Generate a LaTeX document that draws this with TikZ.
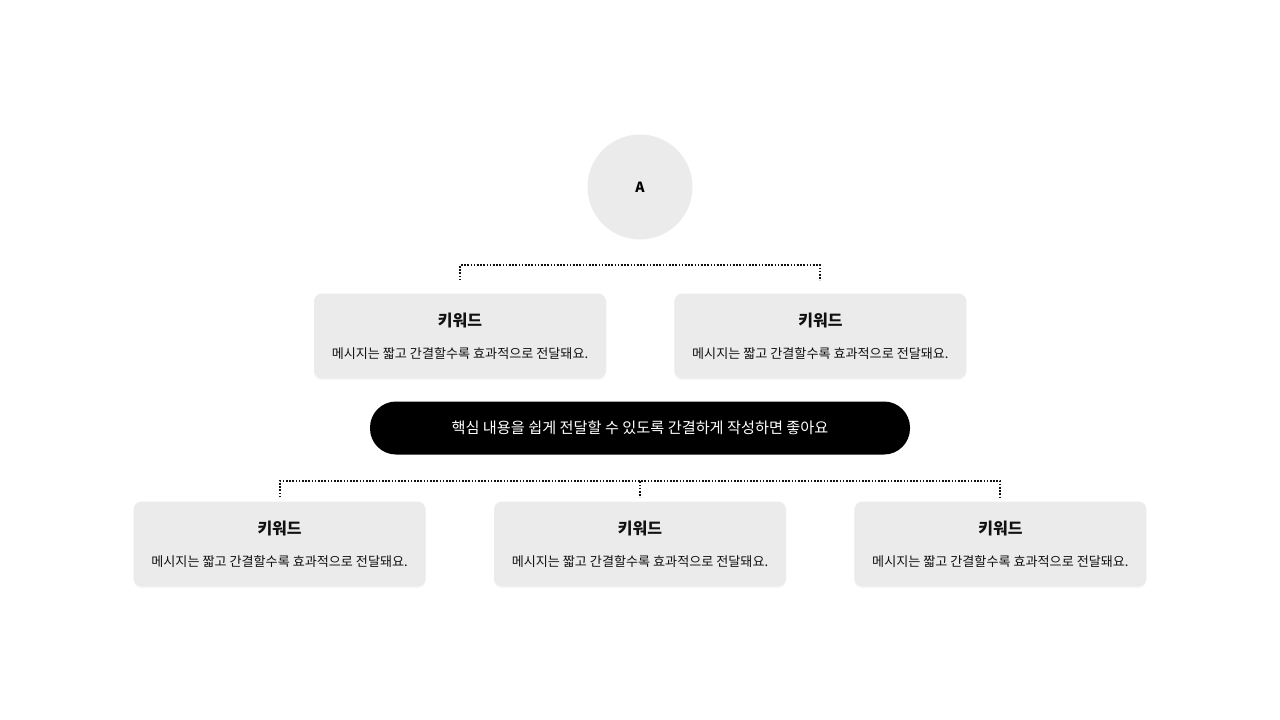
\documentclass[tikz,border=0pt]{standalone}
\usepackage{fontspec}
\setmainfont{Noto Sans CJK KR}
\usetikzlibrary{positioning,shadows}
\definecolor{boxgray}{HTML}{EBEBEB}
\definecolor{inkdark}{HTML}{111111}

\begin{document}
\begin{tikzpicture}[x=1pt,y=-1pt,
box/.style={fill=boxgray,rounded corners=8pt,minimum width=292pt,minimum height=85pt,
  align=center,text=inkdark,font=\fontsize{13.1}{18}\selectfont,
  drop shadow={opacity=0.07,shadow xshift=0pt,shadow yshift=-1.5pt}},
bracket/.style={line width=2pt,dash pattern=on 1.6pt off 1.6pt,draw=inkdark},
node distance = 68pt]
\useasboundingbox (0,0) rectangle (1280,720);

\node[circle,fill=boxgray,minimum size=105pt,inner sep=0pt,font=\bfseries\fontsize{14}{16}\selectfont] (a) at (640,187) {A};

\node[box] (k1) at (460,336) {{\bfseries\fontsize{16}{18}\selectfont 키워드}\\[14pt]메시지는 짧고 간결할수록 효과적으로 전달돼요.};
\node[box,right=of k1] (k2) {{\bfseries\fontsize{16}{18}\selectfont 키워드}\\[14pt]메시지는 짧고 간결할수록 효과적으로 전달돼요.};

\node[fill=black,text=white,rounded corners=26pt,minimum width=540pt,minimum height=53pt,
  inner sep=0pt,font=\fontsize{15.2}{17}\selectfont] (pill) at (640,428) {핵심 내용을 쉽게 전달할 수 있도록 간결하게 작성하면 좋아요};

\node[box] (m2) at (640,544) {{\bfseries\fontsize{16}{18}\selectfont 키워드}\\[14pt]메시지는 짧고 간결할수록 효과적으로 전달돼요.};
\node[box,left=of m2] (m1) {{\bfseries\fontsize{16}{18}\selectfont 키워드}\\[14pt]메시지는 짧고 간결할수록 효과적으로 전달돼요.};
\node[box,right=of m2] (m3) {{\bfseries\fontsize{16}{18}\selectfont 키워드}\\[14pt]메시지는 짧고 간결할수록 효과적으로 전달돼요.};

% top bracket
\coordinate (k1t) at ([yshift=13pt]k1.north);
\coordinate (k1h) at ([yshift=28pt]k1.north);
\coordinate (k2t) at ([yshift=13pt]k2.north);
\coordinate (k2h) at ([yshift=28pt]k2.north);
\draw[bracket] (k1t) -- (k1h) -- (k2h) -- (k2t);

% bottom bracket
\foreach \x in {1,2,3}{
\coordinate (m\x t) at ([yshift=4pt]m\x.north);
\coordinate (m\x h) at ([yshift=20pt]m\x.north);
}
\draw[bracket] (m1t) -- (m1h) -- (m3h) -- (m3t);
\draw[bracket] (m2h) -- (m2t);

\end{tikzpicture}
\end{document}
